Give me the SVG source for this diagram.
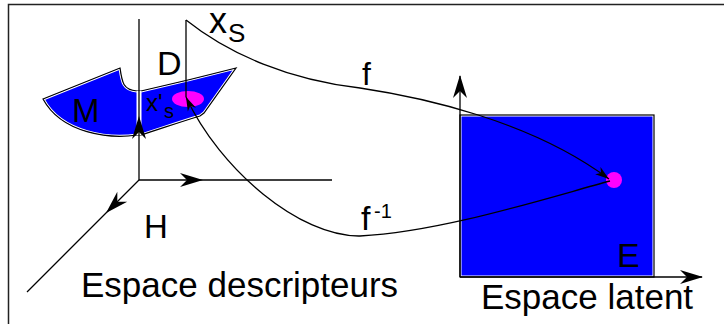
<svg xmlns="http://www.w3.org/2000/svg" width="724" height="324" viewBox="0 0 724 324">
<style>
.ln{fill:none;stroke:#000;stroke-width:1.3}
.t{font-family:"Liberation Sans",Arial,sans-serif;fill:#000}
.reg{fill:#0000ff}
.edgeW{fill:none;stroke:#fff;stroke-width:3}
.edgeK{fill:none;stroke:#000;stroke-width:1.2}
.hd{fill:#000}
</style>
<defs>
<path id="ah" d="M0,0 L-23,-7 L-16,0 L-23,7 Z"/>
<marker id="sm" markerUnits="userSpaceOnUse" viewBox="-16 -6 18 12" refX="0" refY="0" markerWidth="18" markerHeight="12" orient="auto"><path d="M0,0 L-14,-4.5 L-10,0 L-14,4.5 Z" fill="#000"/></marker>
<path id="mshape" d="M43,99 L120,68 C122,82 123,90 137,91 L141,91 C172,84 205,76 236,68 L204,113 L200,116 C180,122 160,129 141,135 L137,135 C110,139 62,134 43,99 Z"/>
<clipPath id="cm"><use href="#mshape"/></clipPath>
<rect id="erect" x="460" y="115" width="194" height="162"/>
<clipPath id="ce"><use href="#erect"/></clipPath>
</defs>
<g id="frame"><rect x="8.5" y="4.5" width="740" height="340" fill="none" stroke="#222" stroke-width="1.5"/></g>
<g id="region-M">
<use href="#mshape" class="reg"/>
<use href="#mshape" class="edgeW" clip-path="url(#cm)"/>
<use href="#mshape" class="edgeK"/>
</g>
<g id="region-E">
<use href="#erect" class="reg"/>
<use href="#erect" class="edgeW" clip-path="url(#ce)"/>
<use href="#erect" class="edgeK"/>
</g>
<g id="point-xs"><ellipse cx="188" cy="99" rx="16" ry="8" fill="#ff00ff"/></g>
<g id="point-e"><circle cx="614" cy="180" r="8" fill="#ff00ff"/></g>
<g id="connectors">
<line x1="139" y1="91" x2="139" y2="135" stroke="#fff" stroke-width="5"/>
<line class="ln" x1="139" y1="19" x2="139" y2="180"/>
<line class="ln" x1="139" y1="180" x2="332" y2="180"/>
<line class="ln" x1="139" y1="180" x2="27" y2="292"/>
<use href="#ah" class="hd" transform="translate(139,116) rotate(-90)"/>
<use href="#ah" class="hd" transform="translate(203,180)"/>
<use href="#ah" class="hd" transform="translate(106,213) rotate(135)"/>
<line class="ln" x1="460" y1="277" x2="460" y2="76"/>
<line class="ln" x1="460" y1="277" x2="702" y2="277"/>
<use href="#ah" class="hd" transform="translate(460,75) rotate(-90)"/>
<use href="#ah" class="hd" transform="translate(703,277)"/>
<line class="ln" x1="186" y1="20" x2="186" y2="97"/>
<path class="ln" d="M186,20 C230,55 290,80 360,88 C420,97 530,120 609,179" marker-end="url(#sm)"/>
<path class="ln" d="M610,181 C540,200 440,232 360,236 C300,237 220,170 186,97" marker-end="url(#sm)"/>
</g>
<g id="labels">
<text class="t" x="209" y="33" font-size="36">x</text>
<text class="t" x="228" y="42" font-size="26">S</text>
<text class="t" x="157" y="75" font-size="34">D</text>
<text class="t" x="72" y="122" font-size="33">M</text>
<text class="t" x="146" y="111" font-size="24">x'</text>
<text class="t" x="164" y="118" font-size="20">s</text>
<text class="t" x="362" y="85" font-size="32">f</text>
<text class="t" x="361" y="230" font-size="34">f</text>
<text class="t" x="374" y="218" font-size="20">-1</text>
<text class="t" x="144" y="238" font-size="33">H</text>
<text class="t" x="617" y="267" font-size="34">E</text>
<text class="t" x="81" y="297" font-size="35">Espace descripteurs</text>
<text class="t" x="481" y="309" font-size="35">Espace latent</text>
</g>
</svg>
